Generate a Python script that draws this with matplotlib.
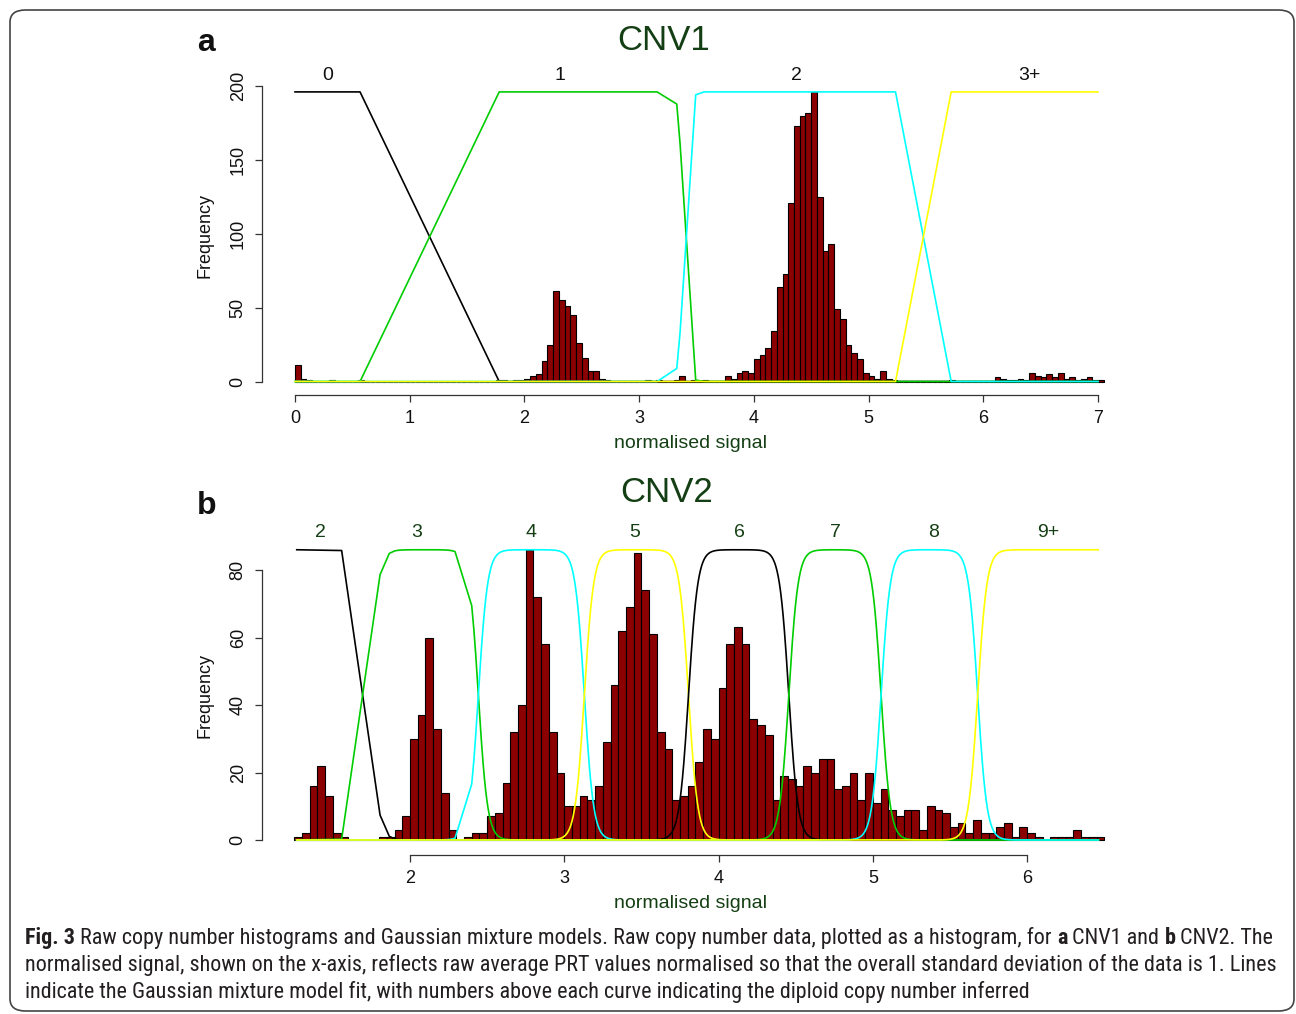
import numpy as np
import matplotlib
matplotlib.use("Agg")
import matplotlib.pyplot as plt
from matplotlib import font_manager
from matplotlib.font_manager import FontProperties
from matplotlib.patches import FancyBboxPatch

# ------------------------------------------------------------------ data
# CNV1 histogram (bin width 0.05, first bin starts at 0)
cnv1_bin_start = 0.0
cnv1_bin_width = 0.05
cnv1_counts = [
    11, 2, 1, 0, 0, 0, 1, 0, 0, 0, 0, 1, 0, 0, 0, 0, 0, 0, 0, 0,          # 0.00-0.95
    0, 0, 0, 0, 0, 0, 0, 0, 0, 0, 0, 0, 0, 0, 0, 1, 1, 0, 1, 1,           # 1.00-1.95
    2, 4, 5, 14, 25, 61, 55, 51, 45, 26, 16, 7, 7, 2, 1, 0, 0, 0, 0, 0,   # 2.00-2.95
    0, 1, 0, 1, 0, 0, 1, 4, 0, 1, 0, 1, 0, 0, 0, 4, 2, 6, 7, 6,           # 3.00-3.95
    15, 18, 23, 34, 64, 73, 121, 173, 180, 182, 196, 125, 88, 93, 49, 42, 25, 19, 15, 6,  # 4.00-4.95
    4, 2, 7, 2, 1, 0, 0, 0, 0, 0, 0, 0, 0, 0, 1, 0, 0, 0, 0, 0,           # 5.00-5.95
    0, 0, 3, 2, 1, 1, 2, 1, 6, 4, 3, 5, 3, 6, 2, 3, 1, 2, 3, 1,           # 6.00-6.95
    1,                                                                     # 7.00
]
# CNV1 mixture-model posterior lines (vertices)
cnv1_curve_x = [0.0, 0.567, 1.78, 3.157, 3.328, 3.357, 3.493, 3.566, 5.235, 5.72, 7.0]
cnv1_post_0 = [1, 1, 0, 0, 0, 0, 0, 0, 0, 0, 0]
cnv1_post_1 = [0, 0, 1, 1, 0.958, 0.82, 0.005, 0, 0, 0, 0]
cnv1_post_2 = [0, 0, 0, 0, 0.045, 0.17, 0.99, 1, 1, 0, 0]
cnv1_post_3 = [0, 0, 0, 0, 0, 0, 0, 0, 0, 1, 1]
cnv1_labels = ["0", "1", "2", "3+"]
cnv1_label_x = [0.288, 2.31, 4.37, 6.40]

# CNV2 histogram (bin width 0.05, first bin starts at 1.25)
cnv2_bin_start = 1.25
cnv2_bin_width = 0.05
cnv2_counts = [
    1, 2, 16, 22, 13, 2, 1, 0, 0, 0, 0, 1, 1, 3, 7,                       # 1.25-1.95
    30, 37, 60, 33, 14, 3, 0, 1, 2, 2, 7, 8, 17, 32, 40, 86, 72, 58, 32, 20,  # 2.00-2.95
    10, 10, 13, 12, 16, 29, 46, 62, 69, 85, 74, 61, 32, 27, 12, 13, 16, 23, 33, 30,  # 3.00-3.95
    45, 58, 63, 58, 36, 34, 31, 12, 19, 18, 16, 22, 20, 24, 24, 15, 16, 20, 12, 20,  # 4.00-4.95
    11, 15, 9, 7, 9, 9, 3, 10, 9, 8, 4, 5, 2, 6, 2, 2, 4, 5, 1, 4,        # 5.00-5.95
    2, 1, 0, 1, 1, 1, 3, 1, 1, 1,                                          # 6.00-6.45
]
cnv2_labels = ["2", "3", "4", "5", "6", "7", "8", "9+"]
cnv2_label_x = [1.417, 2.045, 2.784, 3.458, 4.138, 4.754, 5.396, 6.134]
# x where neighbouring posterior curves cross (p = 0.5)
cnv2_boundaries = [1.735, 2.443, 3.130, 3.805, 4.455, 5.053, 5.679]
cnv2_transition_width = 0.03
# sparse observed signal values where the curves show straight segments
cnv2_sparse_x = [1.266, 1.557, 1.806, 1.866, 2.292, 2.40]
cnv2_x_range = [1.266, 6.461]

curve_colors = ["#000000", "#00CD00", "#00FFFF", "#FFFF00"]

# ------------------------------------------------------------------ style
W, H, DPI = 1296, 1014, 100
ttf = font_manager.fontManager.ttflist
names = {f.name for f in ttf}
base_font = "Liberation Sans" if "Liberation Sans" in names else "DejaVu Sans"
plt.rcParams["font.family"] = [base_font, "DejaVu Sans"]
dark_green = "#143f14"
bar_color = "#8B0000"


def wnum(w):
    if isinstance(w, (int, float)):
        return int(w)
    return {"normal": 400, "regular": 400, "book": 400, "medium": 500, "light": 300,
            "bold": 700, "semibold": 600, "demibold": 600, "heavy": 800,
            "black": 900}.get(str(w).lower(), 400)


def is_condensed(f):
    s = f.stretch
    if isinstance(s, (int, float)):
        return s < 500
    return "condensed" in str(s).lower() or "narrow" in f.name.lower() or \
        "condensed" in f.name.lower()


def pick_caption_fonts():
    prio = ["Liberation Sans Narrow", "Open Sans", "Open Sans Condensed", "Roboto",
            "Roboto Condensed", "Noto Sans", "Noto Sans Condensed", "DejaVu Sans",
            "DejaVu Sans Condensed", "Lato", "Inter"]
    cond = [f for f in ttf if is_condensed(f) and f.style == "normal"]
    for nm in prio:
        group = [f for f in cond if f.name == nm]
        regs = [f for f in group if 350 <= wnum(f.weight) <= 450]
        if regs:
            bolds = [f for f in group if wnum(f.weight) >= 600]
            bolds.sort(key=lambda f: abs(wnum(f.weight) - 700))
            return regs[0].fname, (bolds[0].fname if bolds else None)
    for f in cond:
        if 350 <= wnum(f.weight) <= 450:
            bolds = [g for g in cond if g.name == f.name and wnum(g.weight) >= 600]
            return f.fname, (bolds[0].fname if bolds else None)
    return None, None


reg_path, bold_path = pick_caption_fonts()
if reg_path:
    cap_reg = FontProperties(fname=reg_path)
    cap_bold = FontProperties(fname=bold_path) if bold_path else FontProperties(fname=reg_path, weight="bold")
else:
    fam = "Open Sans" if "Open Sans" in names else base_font
    cap_reg = FontProperties(family=fam, weight="normal")
    cap_bold = FontProperties(family=fam, weight="bold")

fig = plt.figure(figsize=(W / DPI, H / DPI), dpi=DPI)
fig.patch.set_facecolor("white")


def fx(px):
    return px / W


def fy(py):
    return 1 - py / H


def style_axes(ax, ybounds, xbounds, yticks, xticks):
    for s in ["top", "right"]:
        ax.spines[s].set_visible(False)
    ax.spines["left"].set_position(("outward", 28 * 72 / DPI))
    ax.spines["bottom"].set_position(("outward", 5 * 72 / DPI))
    ax.spines["left"].set_bounds(*ybounds)
    ax.spines["bottom"].set_bounds(*xbounds)
    for s in ["left", "bottom"]:
        ax.spines[s].set_color("#333333")
        ax.spines[s].set_linewidth(0.9)
    ax.set_yticks(yticks)
    ax.set_xticks(xticks)
    ax.set_yticklabels([str(v) for v in yticks], rotation=90, va="center")
    ax.set_xticklabels([str(v) for v in xticks])
    ax.tick_params(axis="both", direction="out", length=7 * 72 / DPI, width=0.9,
                   color="#333333", labelsize=13, labelcolor="#111111")
    ax.tick_params(axis="x", pad=6)
    ax.tick_params(axis="y", pad=6)
    ax.set_facecolor("none")


# ------------------------------------------------------------------ panel a
ax1 = fig.add_axes([fx(290), fy(390), 818 / W, 330 / H])
edges1 = cnv1_bin_start + cnv1_bin_width * np.arange(len(cnv1_counts))
ax1.bar(edges1, cnv1_counts, width=cnv1_bin_width, align="edge", color=bar_color,
        edgecolor="black", linewidth=0.8, zorder=2)
scale1 = max(cnv1_counts)
for post, col in zip([cnv1_post_0, cnv1_post_1, cnv1_post_2, cnv1_post_3], curve_colors):
    ax1.plot(cnv1_curve_x, np.array(post) * scale1, color=col, lw=1.2, zorder=3,
             solid_joinstyle="round")
ax1.set_xlim(0 - 5 / 114.7, 7 + 10 / 114.7)
ax1.set_ylim(-(390 - 381.5) / 1.4775, (381.5 - 60) / 1.4775)
style_axes(ax1, (0, 200), (0, 7), [0, 50, 100, 150, 200], list(range(8)))
for lab, xv in zip(cnv1_labels, cnv1_label_x):
    ax1.text(xv, 207, lab, ha="center", va="center", fontsize=14, color="#111111",
             clip_on=False)

# ------------------------------------------------------------------ panel b
ax2 = fig.add_axes([fx(290), fy(850), 818 / W, 330 / H])
edges2 = cnv2_bin_start + cnv2_bin_width * np.arange(len(cnv2_counts))
ax2.bar(edges2, cnv2_counts, width=cnv2_bin_width, align="edge", color=bar_color,
        edgecolor="black", linewidth=0.8, zorder=2)
xs = np.concatenate([
    cnv2_sparse_x[:4],
    np.arange(1.90, 2.29, 0.01),
    cnv2_sparse_x[4:],
    np.arange(2.41, cnv2_x_range[1], 0.004),
    [cnv2_x_range[1]],
])
xs = np.sort(xs)
bnd = [-np.inf] + cnv2_boundaries + [np.inf]


def sig(z):
    return 1.0 / (1.0 + np.exp(-z))


scale2 = max(cnv2_counts)
for k in range(len(cnv2_labels)):
    left = sig((xs - bnd[k]) / cnv2_transition_width) if np.isfinite(bnd[k]) else np.ones_like(xs)
    right = sig((xs - bnd[k + 1]) / cnv2_transition_width) if np.isfinite(bnd[k + 1]) else np.zeros_like(xs)
    p = left - right
    ax2.plot(xs, p * scale2, color=curve_colors[k % 4], lw=1.2, zorder=3)
ax2.set_xlim(2 - 120 / 154.3, 2 + 698 / 154.3)
ax2.set_ylim(-(850 - 840) / 3.375, (840 - 520) / 3.375)
style_axes(ax2, (0, 80), (2, 6), [0, 20, 40, 60, 80], [2, 3, 4, 5, 6])
for lab, xv in zip(cnv2_labels, cnv2_label_x):
    ax2.text(xv, 91.0, lab, ha="center", va="center", fontsize=14, color=dark_green,
             clip_on=False)

# ------------------------------------------------------------------ texts
fig.text(fx(664), fy(41), "CNV1", ha="center", va="center", fontsize=25, color=dark_green)
fig.text(fx(667), fy(493), "CNV2", ha="center", va="center", fontsize=25, color=dark_green)
fig.text(fx(206), fy(43), "a", ha="center", va="center", fontsize=23, fontweight="bold",
         color="#111111")
fig.text(fx(207), fy(506), "b", ha="center", va="center", fontsize=23, fontweight="bold",
         color="#111111")
for yy in (443, 903):
    fig.text(fx(691), fy(yy), "normalised signal", ha="center", va="center", fontsize=14,
             color=dark_green)
for yy in (235, 695):
    fig.text(fx(205), fy(yy), "Frequency", ha="center", va="center", rotation=90,
             fontsize=13, color="#111111")

# ------------------------------------------------------------------ caption
cap_lines = [
    [("Fig. 3", True), ("Raw copy number histograms and Gaussian mixture models. Raw copy number data, plotted as a histogram, for", False),
     ("a", True), ("CNV1 and", False), ("b", True), ("CNV2. The", False)],
    [("normalised signal, shown on the x-axis, reflects raw average PRT values normalised so that the overall standard deviation of the data is 1. Lines", False)],
    [("indicate the Gaussian mixture model fit, with numbers above each curve indicating the diploid copy number inferred", False)],
]
cap_y = [938, 965, 992]
cap_color = "#231f20"
renderer = fig.canvas.get_renderer()


def run_width(txt, bold, size):
    fp = (cap_bold if bold else cap_reg).copy()
    fp.set_size(size)
    t = fig.text(0, 0, txt, fontproperties=fp)
    w = t.get_window_extent(renderer).width
    t.remove()
    return w


def line_width(runs, size):
    sp = run_width("x x", False, size) - run_width("xx", False, size)
    return sum(run_width(t, b, size) for t, b in runs) + sp * (len(runs) - 1), sp


# fit the caption size to the reference width of the first line (25 -> 1270 px)
w10, _ = line_width(cap_lines[0], 10)
cap_size = 10 * (1270 - 25) / w10
for runs, yy in zip(cap_lines, cap_y):
    _, sp = line_width(runs, cap_size)
    x = 25
    for txt, bold in runs:
        fp = (cap_bold if bold else cap_reg).copy()
        fp.set_size(cap_size)
        t = fig.text(fx(x), fy(yy), txt, fontproperties=fp,
                     ha="left", va="center", color=cap_color)
        x += t.get_window_extent(renderer).width + sp

border = FancyBboxPatch((fx(10), fy(1011)), (1294 - 10) / W, (1011 - 10) / H,
                        boxstyle="round,pad=0,rounding_size=0.012", transform=fig.transFigure,
                        fill=False, edgecolor="#444444", linewidth=1.2)
fig.patches.append(border)

fig.savefig("out.png", dpi=DPI, facecolor="white")
